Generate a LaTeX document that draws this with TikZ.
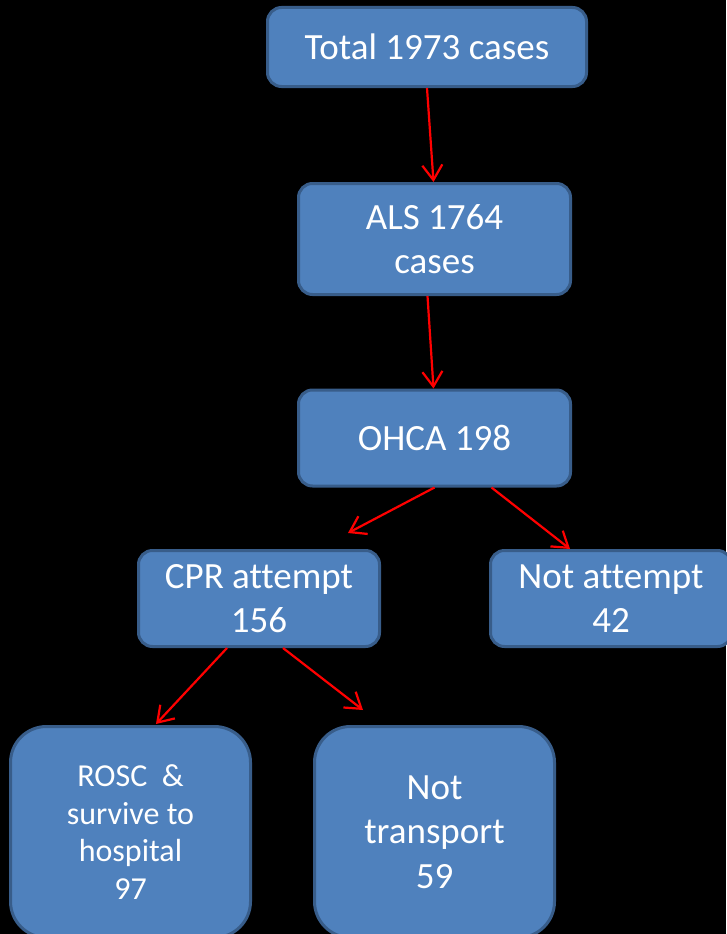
\documentclass[tikz,border=0pt]{standalone}
\usepackage{fontspec}
\setmainfont{Carlito}[Ligatures=NoCommon]
\usetikzlibrary{arrows.meta}
\definecolor{boxfill}{HTML}{4F81BD}
\definecolor{boxline}{HTML}{385D8A}
\begin{document}
\begin{tikzpicture}[x=1pt,y=-1pt,
  box/.style={draw=boxline, fill=boxfill, line width=3pt, rounded corners=14pt,
    text=white, align=center, inner sep=0pt, font=\fontsize{37}{44.5}\selectfont},
  bigbox/.style={box, rounded corners=36pt, minimum width=240pt, minimum height=211pt},
  arr/.style={draw=red, line width=2.2pt, -{Straight Barb[length=15pt,width=20pt,line width=2.2pt]}}]
\fill[black] (0,0) rectangle (726,934);
\useasboundingbox (0,0) rectangle (726,934);
\node[box, minimum width=319pt, minimum height=79pt] (total) at (427,47) {Total 1973 cases};
\node[box, minimum width=272pt, minimum height=111pt] (als) at (434.5,239) {ALS 1764\\cases};
\node[box, minimum width=272pt, minimum height=96pt] (ohca) at (434.5,438) {OHCA 198};
\node[box, minimum width=241pt, minimum height=96pt] (cpr) at (259,598.5) {CPR attempt\\156};
\node[box, minimum width=241pt, minimum height=96pt] (notatt) at (611,598.5) {Not attempt\\42};
\node[bigbox, font=\fontsize{32}{37.5}\selectfont] (rosc) at (130.5,832) {ROSC~~\&\\survive to\\hospital\\97};
\node[bigbox] (nottr) at (434.5,832) {Not\\transport\\59};
\coordinate (t3) at (348,533);
\coordinate (t4) at (570,549);
\coordinate (t5) at (156,724);
\coordinate (t6) at (363,710);
\draw[arr] (total.south) -- ([xshift=-1pt]als.north);
\draw[arr] ([xshift=-7pt]als.south) -- ([xshift=-1pt]ohca.north);
\draw[arr] (ohca.south) -- (t3);
\draw[arr] ([xshift=57pt]ohca.south) -- (t4);
\draw[arr] ([xshift=-32pt]cpr.south) -- (t5);
\draw[arr] ([xshift=24pt]cpr.south) -- (t6);
\end{tikzpicture}
\end{document}
